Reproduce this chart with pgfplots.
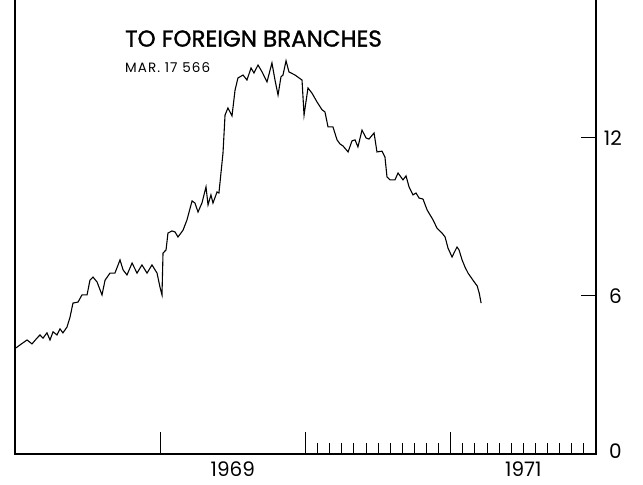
\documentclass[border=0pt]{standalone}
\usepackage{fontspec}
\setmainfont{Poppins}
\newfontfamily\titlefont{Poppins}[FakeBold=1.3]
\usepackage{pgfplots}
\pgfplotsset{compat=1.18}
\begin{document}
\begin{tikzpicture}
\begin{axis}[
  scale only axis,
  width=581bp, height=457bp,
  xmin=1968, xmax=1972,
  ymin=0, ymax=17.354,
  axis line style={line width=1.5bp, -},
  tick align=inside,
  xtick pos=bottom,
  ytick pos=both,
  yticklabel pos=right,
  xtick={1969.5,1971.5},
  xticklabels={1969,1971},
  major x tick style={draw=none},
  major y tick style={draw=black, line width=1bp},
  major tick length=15bp,
  minor tick length=11bp,
  minor xtick={1970.0833,1970.1667,1970.25,1970.3333,1970.4167,1970.5,1970.5833,1970.6667,1970.75,1970.8333,1970.9167,
               1971.0833,1971.1667,1971.25,1971.3333,1971.4167,1971.5,1971.5833,1971.6667,1971.75,1971.8333,1971.9167},
  tick style={line width=1bp, black},
  extra x ticks={1969,1970,1971},
  extra x tick labels={},
  extra x tick style={major tick length=22bp, major x tick style={draw=black}},
  ytick={0,6,12},
  yticklabels={\raisebox{6bp}{0},6,12},
  xticklabel style={inner sep=0pt, anchor=north, yshift=-8bp},
  yticklabel style={inner sep=0pt, anchor=east, xshift=26bp},
  tick label style={font=\fontsize{20bp}{24bp}\selectfont},
  /pgf/number format/assume math mode=true,
  clip=false,
]
\addplot[black, line width=1.1bp] coordinates {
(1968.007,4.03) (1968.034,4.14) (1968.083,4.33) (1968.117,4.18) (1968.151,4.40)
(1968.172,4.52) (1968.193,4.40) (1968.220,4.60) (1968.241,4.33) (1968.262,4.64)
(1968.289,4.52) (1968.310,4.75) (1968.330,4.60) (1968.358,4.82) (1968.379,5.20)
(1968.399,5.73) (1968.434,5.77) (1968.461,6.04) (1968.496,6.04) (1968.516,6.60)
(1968.537,6.72) (1968.565,6.53) (1968.599,6.04) (1968.620,6.60) (1968.654,6.87)
(1968.688,6.87) (1968.723,7.37) (1968.744,6.99) (1968.771,6.80) (1968.806,7.25)
(1968.840,6.87) (1968.874,7.18) (1968.909,6.87) (1968.943,7.18) (1968.978,6.87)
(1968.998,6.34) (1969.012,6.04) (1969.019,7.63) (1969.040,7.75) (1969.053,8.39)
(1969.081,8.47) (1969.102,8.43) (1969.122,8.24) (1969.157,8.50) (1969.184,8.89)
(1969.219,9.61) (1969.239,9.53) (1969.260,9.19) (1969.287,9.53) (1969.315,10.14)
(1969.329,9.46) (1969.349,9.84) (1969.363,9.53) (1969.391,9.95) (1969.404,9.91)
(1969.418,10.67) (1969.432,11.43) (1969.446,12.87) (1969.466,13.14) (1969.494,12.84)
(1969.515,13.82) (1969.535,14.28) (1969.570,14.39) (1969.597,14.20) (1969.625,14.66)
(1969.645,14.47) (1969.673,14.77) (1969.701,14.51) (1969.735,14.13) (1969.769,14.85)
(1969.790,14.20) (1969.811,13.63) (1969.831,14.32) (1969.845,14.39) (1969.866,14.93)
(1969.886,14.51) (1969.928,14.39) (1969.976,14.20) (1969.990,12.87) (1970.017,13.90)
(1970.045,13.70) (1970.079,13.37) (1970.114,13.07) (1970.134,12.99) (1970.155,12.42)
(1970.189,12.42) (1970.217,11.93) (1970.238,11.77) (1970.258,11.70) (1970.293,11.47)
(1970.320,11.89) (1970.341,11.93) (1970.361,11.66) (1970.389,12.30) (1970.417,12.00)
(1970.437,11.96) (1970.472,12.19) (1970.492,11.47) (1970.527,11.50) (1970.547,11.28)
(1970.561,10.52) (1970.582,10.41) (1970.616,10.41) (1970.637,10.67) (1970.671,10.41)
(1970.692,10.56) (1970.713,10.14) (1970.740,9.84) (1970.761,9.91) (1970.782,9.72)
(1970.809,9.68) (1970.837,9.27) (1970.878,8.89) (1970.905,8.58) (1970.940,8.39)
(1970.961,8.24) (1970.981,7.82) (1971.009,7.48) (1971.022,7.63) (1971.043,7.86)
(1971.057,7.75) (1971.078,7.37) (1971.098,7.10) (1971.119,6.87) (1971.153,6.60)
(1971.182,6.38) (1971.196,6.11) (1971.209,5.73)
};
\node[anchor=base west, inner sep=0pt, font=\titlefont\fontsize{23bp}{27bp}\selectfont] at (axis cs:1968.757,15.47) {TO FOREIGN BRANCHES};
\node[anchor=base west, inner sep=0pt, font=\fontsize{13.5bp}{16bp}\selectfont\addfontfeature{LetterSpace=8}] at (axis cs:1968.757,14.47) {MAR. 17 566};
\coordinate (bl) at (rel axis cs:0,0);
\coordinate (tl) at (axis cs:1972,17.24);
\coordinate (ysix) at (axis cs:1968,6);
\coordinate (ytwelve) at (axis cs:1968,12);
\end{axis}
% the reference has no tick marks on the left side: mask the left copies
\fill[white] ([shift={(0.85bp,-1.3bp)}]ysix) rectangle ([shift={(17bp,1.3bp)}]ysix);
\fill[white] ([shift={(0.85bp,-1.3bp)}]ytwelve) rectangle ([shift={(17bp,1.3bp)}]ytwelve);
\pgfresetboundingbox
\useasboundingbox ([shift={(-15bp,-31bp)}]bl) rectangle ([shift={(47bp,0bp)}]tl);
\end{tikzpicture}
\end{document}
